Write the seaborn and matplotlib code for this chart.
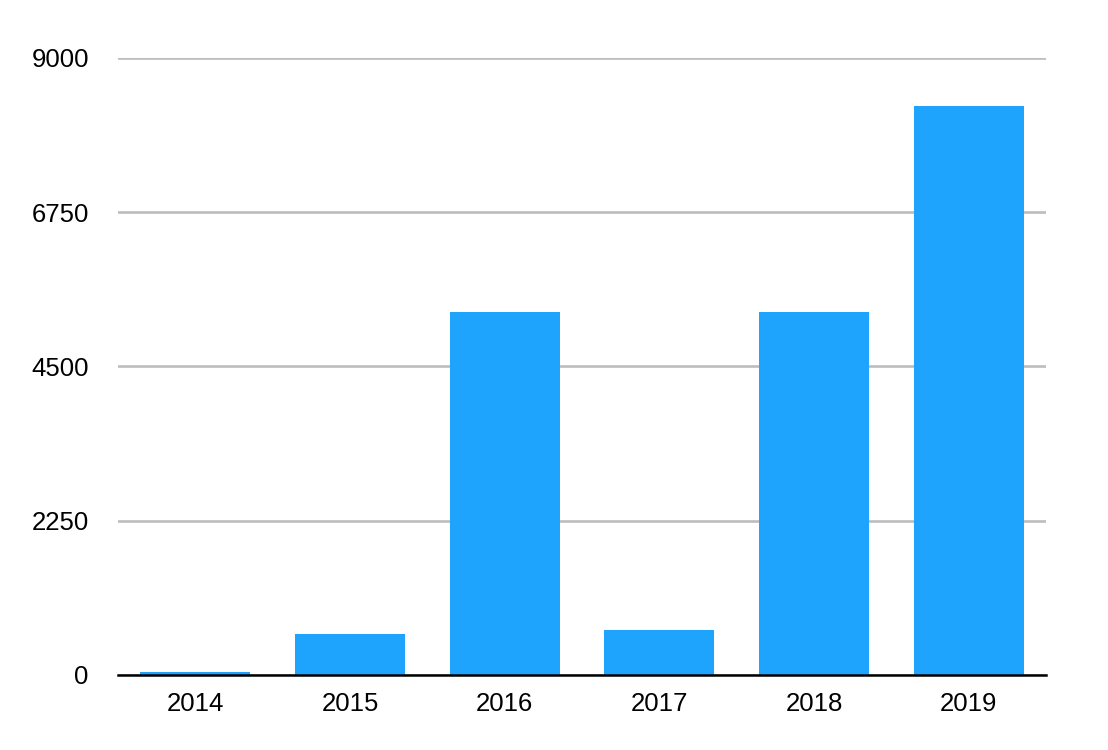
import numpy as np
import pandas as pd
import matplotlib
matplotlib.use('Agg')
import matplotlib.pyplot as plt
import seaborn as sns

# values
years = ['2014', '2015', '2016', '2017', '2018', '2019']
counts = [44, 598, 5300, 657, 5300, 8295]
yticks = [0, 2250, 4500, 6750, 9000]

df = pd.DataFrame({'year': years, 'count': counts})

sns.set_style('white')
plt.rcParams['font.family'] = ['Liberation Sans', 'DejaVu Sans']

fig = plt.figure(figsize=(11.08, 7.5), dpi=100)
ax = fig.add_axes([118 / 1108, 75 / 750, 928 / 1108, 617 / 750])

sns.barplot(data=df, x='year', y='count', color='#1ea4fd', saturation=1,
            width=0.71, linewidth=0, edgecolor='none', ax=ax, zorder=3)

ax.set_ylim(0, 9000)
ax.set_yticks(yticks)
ax.set_xlim(-0.5, len(years) - 0.5)
ax.yaxis.grid(True, color='#bdbdbd', linewidth=1.9, zorder=0)
ax.set_axisbelow(True)

for s in ['top', 'right', 'left']:
    ax.spines[s].set_visible(False)
ax.spines['bottom'].set_color('black')
ax.spines['bottom'].set_linewidth(1.8)
ax.spines['bottom'].set_zorder(5)

ax.tick_params(axis='y', length=0, pad=21, labelsize=18.5, labelcolor='black')
ax.tick_params(axis='x', length=0, pad=12, labelsize=18.5, labelcolor='black')
ax.set_xlabel('')
ax.set_ylabel('')

fig.savefig('out.png', dpi=100, facecolor='white')
